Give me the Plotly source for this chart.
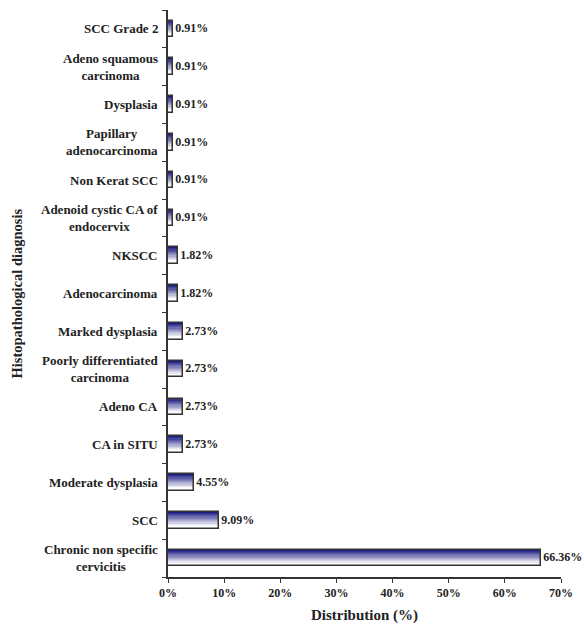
import plotly.graph_objects as go

# Histopathological diagnoses, listed bottom to top
diagnoses = [
    "Chronic non specific<br>cervicitis",
    "SCC",
    "Moderate dysplasia",
    "CA in SITU",
    "Adeno CA",
    "Poorly differentiated<br>carcinoma",
    "Marked dysplasia",
    "Adenocarcinoma",
    "NKSCC",
    "Adenoid cystic CA of<br>endocervix",
    "Non Kerat SCC",
    "Papillary<br>adenocarcinoma",
    "Dysplasia",
    "Adeno squamous<br>carcinoma",
    "SCC Grade 2",
]
distribution_pct = [66.36, 9.09, 4.55, 2.73, 2.73, 2.73, 2.73, 1.82, 1.82,
                    0.91, 0.91, 0.91, 0.91, 0.91, 0.91]
x_ticks = [0, 10, 20, 30, 40, 50, 60, 70]

FONT = "Liberation Serif"
INK = "#222222"
BAR_W = 0.44
N_STRIPS = 14
TOP = (28, 28, 130)
BOTTOM = (255, 255, 255)

fig = go.Figure()

# vertical gradient inside each bar: stacked thin strips, dark on top
strip_h = BAR_W / N_STRIPS
for k in range(N_STRIPS):
    t = min(1.0, k / (N_STRIPS * 0.8))
    c = tuple(round(a + (b - a) * t) for a, b in zip(TOP, BOTTOM))
    fig.add_trace(go.Bar(
        x=distribution_pct, y=diagnoses, orientation="h",
        width=strip_h * 1.05, offset=BAR_W / 2 - (k + 1) * strip_h,
        marker=dict(color=f"rgb{c}", line=dict(width=0)),
        hoverinfo="skip", showlegend=False,
    ))

# outline and value labels
fig.add_trace(go.Bar(
    x=distribution_pct, y=diagnoses, orientation="h",
    width=BAR_W, offset=-BAR_W / 2,
    marker=dict(color="rgba(0,0,0,0)", line=dict(color="#333333", width=1.5)),
    texttemplate="%{x:.2f}%", textposition="outside",
    textfont=dict(family=FONT, size=12, color=INK, weight="bold"),
    cliponaxis=False, constraintext="none", showlegend=False,
))

# category labels, centred line by line
annotations = [
    dict(x=0, xref="paper", y=name, yref="y", text=name,
         xanchor="right", xshift=-8, align="center", showarrow=False,
         font=dict(family=FONT, size=13, color=INK, weight="bold"))
    for name in diagnoses
]

plot_w = 584 - 168 - 23
annotations.append(dict(
    text="Histopathological diagnosis", textangle=-90,
    x=-(168 - 16) / plot_w, xref="paper", xanchor="center",
    y=0.5, yref="paper", showarrow=False,
    font=dict(family=FONT, size=14.5, color=INK, weight="bold"),
))

fig.update_layout(
    width=584, height=624,
    margin=dict(l=168, r=23, t=10, b=47, autoexpand=False),
    plot_bgcolor="white", paper_bgcolor="white",
    barmode="overlay", bargap=0,
    annotations=annotations,
    xaxis=dict(
        range=[0, 70], tickvals=x_ticks,
        ticktext=[f"{v}%" for v in x_ticks],
        ticks="outside", ticklen=4, tickcolor="#333333",
        showline=True, linecolor="#333333", linewidth=1.5,
        showgrid=False, zeroline=False, automargin=False,
        tickfont=dict(family=FONT, size=12, color=INK, weight="bold"),
        title=dict(text="Distribution (%)", standoff=10,
                   font=dict(family=FONT, size=15, color=INK, weight="bold")),
    ),
    yaxis=dict(
        type="category", categoryorder="array", categoryarray=diagnoses,
        range=[-0.5, len(diagnoses) - 0.5],
        tickson="boundaries", ticks="outside", ticklen=4, tickcolor="#333333",
        showticklabels=False, automargin=False,
        showline=True, linecolor="#333333", linewidth=1.5, showgrid=False,
    ),
)

fig.write_html("out.html")
